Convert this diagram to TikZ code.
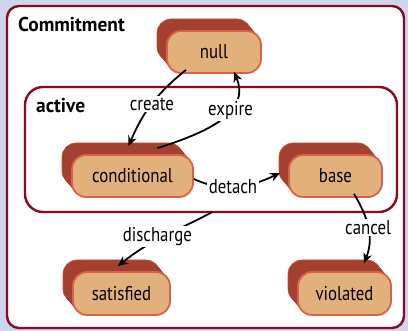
\documentclass[tikz,border=0pt]{standalone}
\usepackage{fontspec}
\setmainfont{PT Sans}[FakeStretch=0.84, BoldFeatures={FakeStretch=0.97}]
\usetikzlibrary{arrows.meta,calc}
\definecolor{bgblue}{HTML}{CDD6EE}
\definecolor{boxred}{HTML}{8C0A1C}
\definecolor{backred}{HTML}{A3402F}
\definecolor{backedge}{HTML}{BC5A46}
\definecolor{frontfill}{HTML}{E1B07B}
\definecolor{frontborder}{HTML}{D8614B}
\newcommand\extrude[4]{%
  \draw[backedge, fill=backred, line width=0.6pt, rounded corners=14pt] ({#1-#3/2-10}, {#2-#4/2+12}) rectangle ++(#3,#4);
  \foreach \k in {11,10,...,1} {
    \fill[backred, rounded corners=14pt] ({#1-#3/2-\k*10/12}, {#2-#4/2+\k}) rectangle ++(#3,#4);
  }%
}
\tikzset{
  statebox/.style={rectangle, rounded corners=14pt, fill=frontfill, draw=frontborder,
    line width=1.8pt, minimum height=42pt, inner sep=0pt, font=\fontsize{20}{24}\selectfont},
  regionbox/.style={draw=boxred, line width=2.4pt, fill=white, inner sep=0pt},
  regiontitle/.style={font=\bfseries\fontsize{20}{24}\selectfont, inner sep=0pt, anchor=base west},
  edge/.style={draw=black, line width=1.8pt, -{Stealth[length=10pt,width=9pt]}},
  lbl/.style={fill=white, inner sep=1.5pt, font=\fontsize{20}{24}\selectfont}
}
\begin{document}
\begin{tikzpicture}[x=1pt,y=1pt]
\useasboundingbox (0,0) rectangle (408,331);
\fill[bgblue] (0,0) rectangle (408,331);
\node[regionbox, rounded corners=12pt, minimum width=397pt, minimum height=322pt] (commitment) at (205.5,164) {};
\node[regionbox, rounded corners=18pt, minimum width=372pt, minimum height=125pt] (active) at (211,181.5) {};
\node[regiontitle] (committitle) at (18,299) {Commitment};
\node[regiontitle] (activetitle) at (36,218) {active};
% states
\extrude{214}{279}{94}{42}
\node[statebox, minimum width=94pt] (null) at (214,279) {null};
\extrude{132.5}{155}{121}{42}
\node[statebox, minimum width=121pt] (conditional) at (132.5,155) {conditional};
\extrude{335.5}{155}{93}{42}
\node[statebox, minimum width=93pt] (base) at (335.5,155) {base};
\extrude{121.5}{37.5}{97}{43}
\node[statebox, minimum width=97pt, minimum height=43pt] (satisfied) at (121.5,37.5) {satisfied};
\extrude{344.5}{37.5}{93}{43}
\node[statebox, minimum width=93pt, minimum height=43pt] (violated) at (344.5,37.5) {violated};
% transitions
\draw[edge] ($(null.south)+(-28,4)$) to[out=219,in=67] node[lbl]{create} ($(conditional.north)+(-4,8)$);
\draw[edge] ($(conditional.north)+(25,6)$) .. controls ($(conditional.north)+(82.5,24)$) and ($(null.south)+(36,-36)$) .. node[lbl,pos=0.6]{expire} ($(null.south)+(20,2)$);
\draw[edge] ($(conditional.east)+(0,-3)$) to[out=-25,in=205] node[lbl,xshift=-4pt]{detach} ($(base.west)+(-8,3)$);
\draw[edge] ($(active.south)+(1,1)$) to[out=208,in=39] node[lbl,xshift=-6pt]{discharge} ($(satisfied.north)+(-3.5,5)$);
\draw[edge] ($(base.south)+(18.5,4)$) to[out=-59,in=68] node[lbl]{cancel} ($(violated.north)+(19.5,8)$);
\end{tikzpicture}
\end{document}
